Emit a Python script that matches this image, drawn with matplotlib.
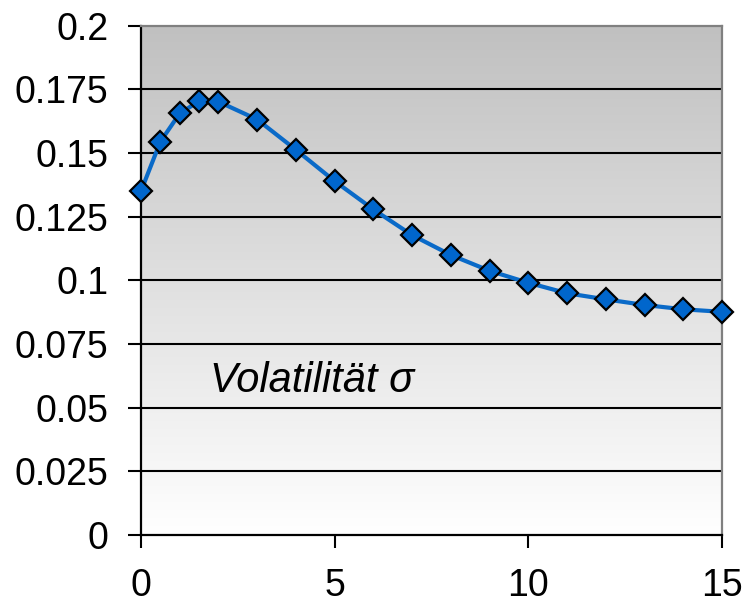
import numpy as np
import matplotlib
matplotlib.use("Agg")
import matplotlib.pyplot as plt
from matplotlib.colors import LinearSegmentedColormap

# Data
t_values = [0, 0.5, 1, 1.5, 2, 3, 4, 5, 6, 7, 8, 9, 10, 11, 12, 13, 14, 15]
sigma_values = [0.1350, 0.1544, 0.1655, 0.1703, 0.1701, 0.1631, 0.1512, 0.1389,
                0.1278, 0.1177, 0.1099, 0.1037, 0.0990, 0.0949, 0.0925, 0.0903,
                0.0886, 0.0876]
x_ticks = [0, 5, 10, 15]
y_ticks = [0, 0.025, 0.05, 0.075, 0.1, 0.125, 0.15, 0.175, 0.2]
y_tick_labels = ["0", "0.025", "0.05", "0.075", "0.1", "0.125", "0.15", "0.175", "0.2"]
label_text = "Volatilität σ"

plt.rcParams['font.family'] = ['Liberation Sans', 'DejaVu Sans']

fig = plt.figure(figsize=(7.45, 6.07), dpi=100)
ax = fig.add_axes([141/745, 1 - 535/607, (722 - 141)/745, (535 - 25.5)/607])

# gradient background
cmap = LinearSegmentedColormap.from_list("bg", ["#ffffff", "#c0c0c0"])
grad = np.linspace(0, 1, 256).reshape(-1, 1)
ax.imshow(grad, cmap=cmap, origin="lower", extent=[0, 15, 0, 0.2],
          aspect="auto", zorder=0, interpolation="bicubic")

ax.set_xlim(0, 15)
ax.set_ylim(0, 0.2)

for yv in y_ticks[1:-1]:
    ax.axhline(yv, color="black", lw=1.5, zorder=1)

ax.plot(t_values, sigma_values, color="#0a6ac8", lw=3.0, zorder=3,
        marker="D", markersize=11, markerfacecolor="#0066cc",
        markeredgecolor="black", markeredgewidth=1.6, clip_on=False)

ax.set_xticks(x_ticks)
ax.set_xticklabels([str(v) for v in x_ticks])
ax.set_yticks(y_ticks)
ax.set_yticklabels(y_tick_labels)
ax.tick_params(axis="both", direction="out", length=9.5, width=1.5,
               labelsize=27, color="black")
ax.tick_params(axis="x", pad=14)
ax.tick_params(axis="y", pad=14)

for side in ["left", "bottom"]:
    ax.spines[side].set_color("black")
    ax.spines[side].set_linewidth(1.6)
for side in ["top", "right"]:
    ax.spines[side].set_color("#808080")
    ax.spines[side].set_linewidth(1.6)

ax.text(1.78, 0.0562, label_text, fontsize=30, style="italic",
        va="baseline", ha="left", zorder=4)

fig.savefig("out.png", dpi=100)
